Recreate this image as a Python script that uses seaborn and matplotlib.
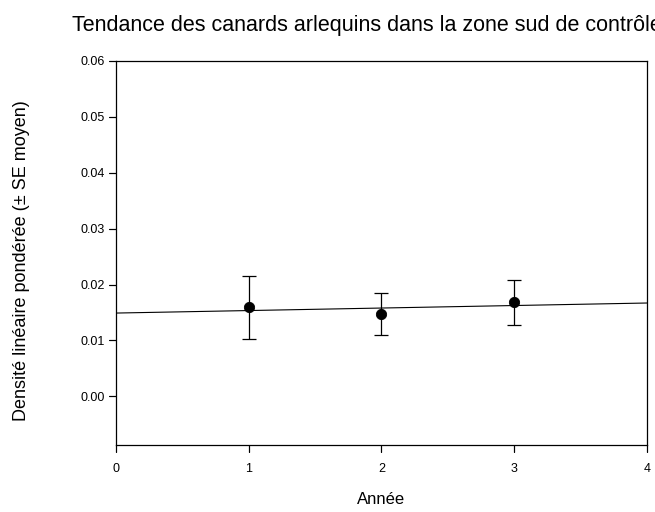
import matplotlib
matplotlib.use("Agg")
import matplotlib.pyplot as plt
import pandas as pd
import seaborn as sns

# values
annees = [1, 2, 3]
densite = [0.0159, 0.0147, 0.0168]
se = [0.0056, 0.0038, 0.0040]
x_ticks = [0, 1, 2, 3, 4]
y_ticks = [0.00, 0.01, 0.02, 0.03, 0.04, 0.05, 0.06]

titre = "Tendance des canards arlequins dans la zone sud de contrôle"
x_label = "Année"
y_label = "Densité linéaire pondérée (± SE moyen)"

df = pd.DataFrame({"annee": annees, "densite": densite, "se": se})

sns.set_style("ticks")
plt.rcParams.update({
    "font.family": ["Liberation Sans", "DejaVu Sans"],
    "text.color": "black",
    "axes.labelcolor": "black",
    "xtick.color": "black",
    "ytick.color": "black",
    "xtick.major.size": 5,
    "ytick.major.size": 5,
    "xtick.direction": "out",
    "ytick.direction": "out",
})

fig = plt.figure(figsize=(6.55, 5.12), dpi=100)
ax = fig.add_axes([0.1766, 0.1309, 0.8116, 0.75])

ax.set_xlim(0, 4)
ax.set_ylim(-0.0087, 0.06)

# regression line across the full x range
sns.regplot(data=df, x="annee", y="densite", ax=ax, scatter=False, ci=None,
            truncate=False, color="black", line_kws={"linewidth": 0.8})

ax.errorbar(df["annee"], df["densite"], yerr=df["se"], fmt="none",
            ecolor="black", elinewidth=0.9, capsize=5, capthick=0.9)
sns.scatterplot(data=df, x="annee", y="densite", ax=ax, color="black",
                s=55, edgecolor="black", zorder=5)

ax.set_xticks(x_ticks)
ax.set_yticks(y_ticks)
ax.set_yticklabels([f"{v:.2f}" for v in y_ticks])
ax.tick_params(axis="both", labelsize=9, bottom=True, left=True)
ax.tick_params(axis="y", pad=3)
ax.tick_params(axis="x", pad=8)

# tick marks drawn as plain lines outside the frame (5 pt long)
tick_x = 5 / 72 * 100 / (0.8116 * 655)
tick_y = 5 / 72 * 100 / (0.75 * 512)
for xt in x_ticks:
    ax.plot([xt, xt], [0, -tick_y], transform=ax.get_xaxis_transform(),
            color="black", linewidth=0.8, clip_on=False)
for yt in y_ticks:
    ax.plot([0, -tick_x], [yt, yt], transform=ax.get_yaxis_transform(),
            color="black", linewidth=0.8, clip_on=False)

for side in ["left", "bottom", "top", "right"]:
    ax.spines[side].set_visible(True)
    ax.spines[side].set_color("black")
    ax.spines[side].set_linewidth(0.9)

ax.set_xlabel(x_label, fontsize=12)
ax.set_ylabel(y_label, fontsize=13)
ax.xaxis.set_label_coords(0.5, -0.122)
ax.yaxis.set_label_coords(-0.162, 0.48)

fig.text(72 / 655, 1 - 31 / 512, titre, fontsize=15.5, ha="left",
         va="baseline")

fig.savefig("out.png", dpi=100)
